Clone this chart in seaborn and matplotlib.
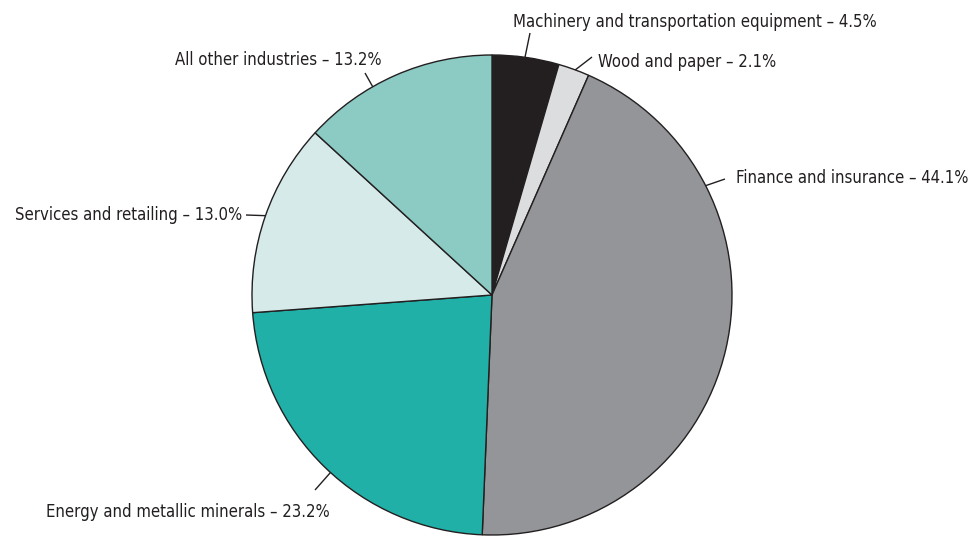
import matplotlib
matplotlib.use("Agg")
import matplotlib.pyplot as plt
import seaborn as sns
import numpy as np

# ---- data ----
categories = [
    "Machinery and transportation equipment",
    "Wood and paper",
    "Finance and insurance",
    "Energy and metallic minerals",
    "Services and retailing",
    "All other industries",
]
shares = [4.5, 2.1, 44.1, 23.2, 13.0, 13.2]
share_labels = ["4.5%", "2.1%", "44.1%", "23.2%", "13.0%", "13.2%"]
colors = ["#231f20", "#dcddde", "#939598", "#20b0a7", "#d5eae9", "#8ccac4"]

# ---- style ----
sns.set_theme(style="white")
plt.rcParams['font.family'] = ['DejaVu Sans']
plt.rcParams['font.stretch'] = 'condensed'

W, H = 980, 537
fig = plt.figure(figsize=(9.8, 5.37), dpi=100)
ax = fig.add_axes([0, 0, 1, 1])

cx, cy, R = 492, H - 295, 240
ax.pie(shares, colors=colors, startangle=90, counterclock=False,
       center=(cx, cy), radius=R, frame=True,
       wedgeprops=dict(edgecolor="#231f20", linewidth=1.0))
ax.set_xlim(0, W)
ax.set_ylim(0, H)
ax.set_aspect("equal")
ax.axis("off")

# label layout: (anchor angle on rim in degrees, leader end px, text pos px, ha)
layout = [
    (82.1, (530, 33), (513, 22), "left"),
    (69.7, (592, 57), (598, 62), "left"),
    (27.1, (725, 179), (736, 178), "left"),
    (-132.3, (315, 490), (46, 512), "left"),
    (160.7, (246, 215), (242, 215), "right"),
    (119.8, (365, 73), (175, 60), "left"),
]

txt_color = "#231f20"
texts = []
for cat, lab, (ang, end, tpos, ha) in zip(categories, share_labels, layout):
    a = np.deg2rad(ang)
    x0, y0 = cx + R * np.cos(a), cy + R * np.sin(a)
    ax.plot([x0, end[0]], [y0, H - end[1]], color=txt_color, lw=1.0,
            solid_capstyle="butt")
    t = ax.text(tpos[0], H - tpos[1], f"{cat} \u2013 {lab}", ha=ha, va="center",
                fontsize=12, color=txt_color, fontstretch="condensed")
    texts.append(t)

# fit font size so the longest label matches the reference width (~364 px)
fig.canvas.draw()
r = fig.canvas.get_renderer()
w0 = texts[0].get_window_extent(renderer=r).width
fs = 12 * 364.0 / w0
for t in texts:
    t.set_fontsize(fs)

fig.savefig("out.png", dpi=100)
